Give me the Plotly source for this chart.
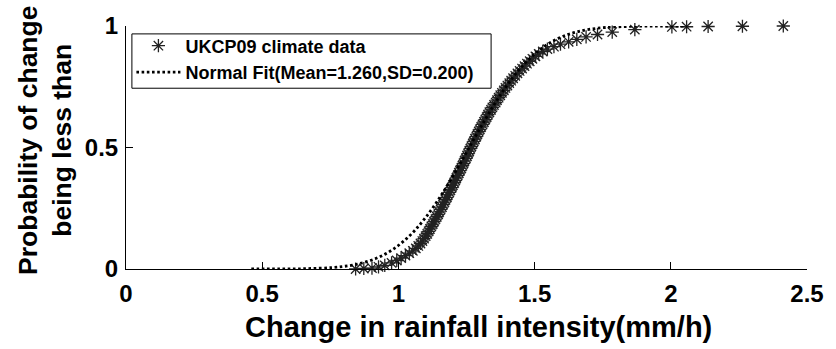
import plotly.graph_objects as go

data_x = [0.843, 0.873, 0.903, 0.927, 0.950, 0.975, 0.994, 1.010, 1.026, 1.040,
          1.053, 1.064, 1.073, 1.081, 1.088, 1.094, 1.100, 1.106, 1.111, 1.116,
          1.121, 1.126, 1.131, 1.136, 1.141, 1.146, 1.150, 1.155, 1.160, 1.164,
          1.169, 1.173, 1.178, 1.182, 1.187, 1.191, 1.196, 1.200, 1.205, 1.209,
          1.213, 1.218, 1.222, 1.226, 1.231, 1.235, 1.239, 1.243, 1.248, 1.252,
          1.256, 1.260, 1.264, 1.268, 1.273, 1.277, 1.281, 1.286, 1.290, 1.295,
          1.299, 1.304, 1.309, 1.314, 1.319, 1.324, 1.329, 1.334, 1.340, 1.345,
          1.351, 1.357, 1.362, 1.368, 1.374, 1.380, 1.387, 1.393, 1.400, 1.407,
          1.414, 1.421, 1.429, 1.437, 1.445, 1.454, 1.463, 1.472, 1.482, 1.492,
          1.503, 1.515, 1.530, 1.547, 1.571, 1.595, 1.625, 1.655, 1.689, 1.731,
          1.785, 1.868, 2.004, 2.058, 2.137, 2.263, 2.413]
data_p = [0.000, 0.002, 0.004, 0.009, 0.015, 0.025, 0.035, 0.045, 0.055, 0.065,
          0.075, 0.085, 0.095, 0.105, 0.115, 0.125, 0.135, 0.145, 0.155, 0.165,
          0.175, 0.185, 0.195, 0.205, 0.215, 0.225, 0.235, 0.245, 0.255, 0.265,
          0.275, 0.285, 0.295, 0.305, 0.315, 0.325, 0.335, 0.345, 0.355, 0.365,
          0.375, 0.385, 0.395, 0.405, 0.415, 0.425, 0.435, 0.445, 0.455, 0.465,
          0.475, 0.485, 0.495, 0.505, 0.515, 0.525, 0.535, 0.545, 0.555, 0.565,
          0.575, 0.585, 0.595, 0.605, 0.615, 0.625, 0.635, 0.645, 0.655, 0.665,
          0.675, 0.685, 0.695, 0.705, 0.715, 0.725, 0.735, 0.745, 0.755, 0.765,
          0.775, 0.785, 0.795, 0.805, 0.815, 0.825, 0.835, 0.845, 0.855, 0.865,
          0.875, 0.885, 0.895, 0.905, 0.915, 0.925, 0.935, 0.945, 0.955, 0.965,
          0.975, 0.985, 0.996, 0.997, 0.998, 0.999, 1.000]

# Normal fit curve (Mean=1.260, SD=0.200) values
fit_x = [0.46, 0.56, 0.66, 0.76, 0.82, 0.86, 0.90, 0.94, 0.98, 1.02, 1.06,
         1.10, 1.14, 1.18, 1.22, 1.26, 1.30, 1.34, 1.38, 1.42, 1.46, 1.50,
         1.54, 1.58, 1.62, 1.66, 1.70, 1.76, 1.86, 1.96, 2.06]
fit_p = [0.00003, 0.00023, 0.00135, 0.00621, 0.0139, 0.02275, 0.0359, 0.0548,
         0.0808, 0.1151, 0.1587, 0.2119, 0.2743, 0.3446, 0.4207, 0.5000,
         0.5793, 0.6554, 0.7257, 0.7881, 0.8413, 0.8849, 0.9192, 0.9452,
         0.9641, 0.97725, 0.9861, 0.99379, 0.99865, 0.99977, 0.99997]

x_ticks = [0, 0.5, 1, 1.5, 2, 2.5]
x_ticktext = ["0", "0.5", "1", "1.5", "2", "2.5"]
y_ticks = [0, 0.5, 1]
y_ticktext = ["0", "0.5", "1"]

FONT = "Liberation Sans, Arial, sans-serif"

# plot area geometry in pixels (for converting legend box to paper coords)
L, T, W, H = 126, 23, 692, 246


def px_x(p):
    return (p - L) / W


def px_y(p):
    return 1 - (p - T) / H


fig = go.Figure()
fig.add_trace(go.Scatter(
    x=data_x, y=data_p, mode="markers", name="UKCP09 climate data",
    marker=dict(symbol="asterisk-open", size=11, color="#222222",
                line=dict(color="#222222", width=1.3)),
    cliponaxis=False,
))
fig.add_trace(go.Scatter(
    x=fit_x, y=fit_p, mode="lines", name="Normal Fit(Mean=1.260,SD=0.200)",
    line=dict(color="black", width=2.8, dash="2.6px,2.6px", shape="spline"),
    cliponaxis=False,
))

fig.update_layout(
    width=836, height=349,
    margin=dict(l=L, r=836 - L - W, t=T, b=349 - T - H),
    paper_bgcolor="white", plot_bgcolor="white",
    font=dict(family=FONT, color="black"),
    showlegend=True,
    legend=dict(x=px_x(131.5), y=px_y(24.5), xanchor="left", yanchor="top",
                borderwidth=0, bgcolor="rgba(0,0,0,0)",
                font=dict(family=FONT, size=18, weight="bold", color="black"),
                itemwidth=44, tracegroupgap=0),
    shapes=[dict(type="rect", xref="paper", yref="paper",
                 x0=px_x(132), x1=px_x(497), y0=px_y(86), y1=px_y(31),
                 line=dict(color="black", width=1), fillcolor="white",
                 layer="above")],
    xaxis=dict(range=[0, 2.5], tickvals=x_ticks, ticktext=x_ticktext,
               ticks="inside", ticklen=7, tickwidth=1, tickcolor="black",
               showline=True, linecolor="black", linewidth=1,
               showgrid=False, zeroline=False, ticklabelstandoff=3,
               tickfont=dict(family=FONT, size=24, weight="bold", color="black")),
    yaxis=dict(range=[0, 1], tickvals=y_ticks, ticktext=y_ticktext,
               ticks="inside", ticklen=7, tickwidth=1, tickcolor="black",
               showline=True, linecolor="black", linewidth=1,
               showgrid=False, zeroline=False, ticklabelstandoff=2,
               tickfont=dict(family=FONT, size=24, weight="bold", color="black")),
    annotations=[
        dict(text="Change in rainfall intensity(mm/h)", xref="paper", yref="paper",
             x=0.517, y=-0.2386, xanchor="center", yanchor="middle", showarrow=False,
             font=dict(family=FONT, size=29, weight="bold", color="black")),
        dict(text="Probability of change<br>being less than", xref="paper", yref="paper",
             x=-0.1193, y=0.53, xanchor="center", yanchor="middle", showarrow=False,
             textangle=-90,
             font=dict(family=FONT, size=26.5, weight="bold", color="black")),
    ],
)

fig.write_html("out.html")
